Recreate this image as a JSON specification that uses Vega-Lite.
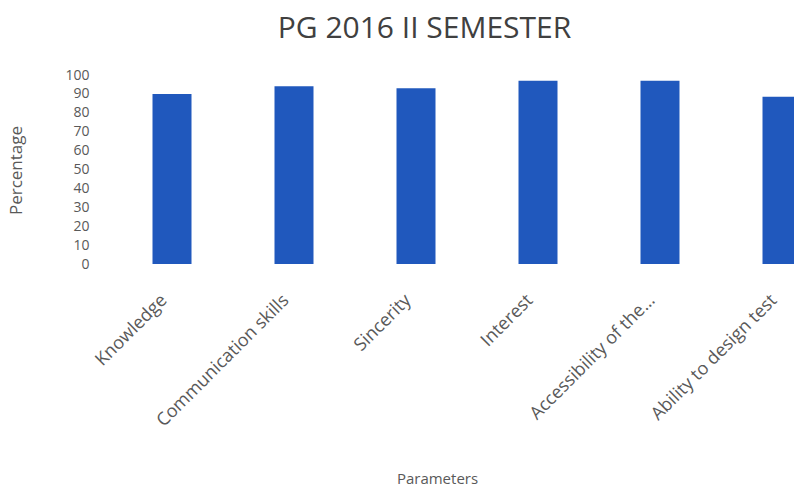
{
  "$schema": "https://vega.github.io/schema/vega-lite/v6.json",
  "width": 683,
  "height": 189,
  "autosize": {"type": "none"},
  "padding": {"left": 111, "top": 75, "right": 0, "bottom": 228},
  "background": "white",
  "title": {
    "text": "PG 2016 II SEMESTER",
    "font": "Open Sans",
    "fontSize": 30,
    "fontWeight": "normal",
    "color": "#404040",
    "anchor": "middle",
    "frame": "group",
    "dx": -28,
    "offset": 24
  },
  "data": {
    "values": [
      {"Parameter": "Knowledge", "Percentage": 90},
      {"Parameter": "Communication skills", "Percentage": 94},
      {"Parameter": "Sincerity", "Percentage": 93},
      {"Parameter": "Interest", "Percentage": 97},
      {"Parameter": "Accessibility of the…", "Percentage": 97},
      {"Parameter": "Ability to design test", "Percentage": 88.5}
    ]
  },
  "mark": {"type": "bar", "color": "#2058bd", "width": 39},
  "encoding": {
    "x": {
      "field": "Parameter",
      "type": "nominal",
      "sort": null,
      "scale": {"range": [0, 732], "paddingInner": 0, "paddingOuter": 0},
      "axis": {
        "title": "Parameters",
        "titleFont": "Open Sans",
        "titleFontSize": 15,
        "titleFontWeight": "normal",
        "titleColor": "#595959",
        "titleX": 326,
        "titleY": 214,
        "titleBaseline": "middle",
        "labelAngle": -45,
        "labelFont": "Open Sans",
        "labelFontSize": 18,
        "labelColor": "#595959",
        "labelPadding": 27,
        "labelOffset": -14,
        "labelOverlap": false,
        "labelLimit": 300,
        "domain": false,
        "ticks": false
      }
    },
    "y": {
      "field": "Percentage",
      "type": "quantitative",
      "scale": {"domain": [0, 100], "nice": false},
      "axis": {
        "title": "Percentage",
        "titleFont": "Open Sans",
        "titleFontSize": 17,
        "titleFontWeight": "normal",
        "titleColor": "#595959",
        "titleX": -86,
        "titleY": 95,
        "values": [0, 10, 20, 30, 40, 50, 60, 70, 80, 90, 100],
        "labelFont": "Open Sans",
        "labelFontSize": 14,
        "labelColor": "#595959",
        "labelPadding": 22,
        "grid": false,
        "domain": false,
        "ticks": false
      }
    }
  },
  "config": {"view": {"stroke": null}}
}
